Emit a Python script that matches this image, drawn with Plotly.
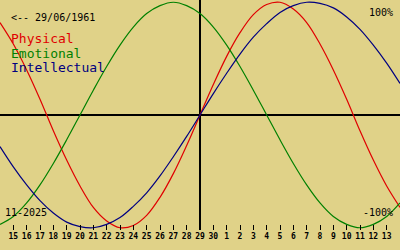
import plotly.graph_objects as go

# Day offsets relative to 29 Nov 2025 (left edge = 14 Nov, right edge = 14 Dec)
day_offsets = list(range(-15, 16))

physical = [0.82, 0.63, 0.40, 0.14, -0.14, -0.40, -0.63, -0.82, -0.94, -1.00, -0.98, -0.89, -0.73, -0.52, -0.27,
            0.00, 0.27, 0.52, 0.73, 0.89, 0.98, 1.00, 0.94, 0.82, 0.63, 0.40, 0.14, -0.14, -0.40, -0.63, -0.82]

emotional = [-0.97, -0.90, -0.78, -0.62, -0.43, -0.22, 0.00, 0.22, 0.43, 0.62, 0.78, 0.90, 0.97, 1.00, 0.97,
             0.90, 0.78, 0.62, 0.43, 0.22, 0.00, -0.22, -0.43, -0.62, -0.78, -0.90, -0.97, -1.00, -0.97, -0.90, -0.78]

intellectual = [-0.28, -0.46, -0.62, -0.76, -0.87, -0.95, -0.99, -1.00, -0.97, -0.91, -0.81, -0.69, -0.54, -0.37, -0.19,
                0.00, 0.19, 0.37, 0.54, 0.69, 0.81, 0.91, 0.97, 1.00, 0.99, 0.95, 0.87, 0.76, 0.62, 0.46, 0.28]

tick_offsets = list(range(-14, 15))
tick_days = [15, 16, 17, 18, 19, 20, 21, 22, 23, 24, 25, 26, 27, 28, 29, 30,
             1, 2, 3, 4, 5, 6, 7, 8, 9, 10, 11, 12, 13]

BG = "rgb(224,210,136)"
RED = "#e00000"
GREEN = "#008000"
BLUE = "#000080"
MONO = "DejaVu Sans Mono"

fig = go.Figure()
for name, vals, col in [("Physical", physical, RED), ("Emotional", emotional, GREEN),
                        ("Intellectual", intellectual, BLUE)]:
    fig.add_trace(go.Scatter(x=day_offsets, y=vals, mode="lines", name=name,
                             line=dict(color=col, width=1.2, shape="spline"),
                             hoverinfo="skip"))

H = 230.0  # plot area height in px (from top)


def py(ypix):
    return (H - ypix) / H


annotations = [
    dict(text="<-- 29/06/1961", x=10 / 400, y=py(17), xanchor="left", yanchor="middle",
         font=dict(family=MONO, size=10, color="black")),
    dict(text="Physical", x=10 / 400, y=py(38), xanchor="left", yanchor="middle",
         font=dict(family=MONO, size=13, color=RED)),
    dict(text="Emotional", x=10 / 400, y=py(53), xanchor="left", yanchor="middle",
         font=dict(family=MONO, size=13, color=GREEN)),
    dict(text="Intellectual", x=10 / 400, y=py(68), xanchor="left", yanchor="middle",
         font=dict(family=MONO, size=13, color=BLUE)),
    dict(text="100%", x=394 / 400, y=py(12.5), xanchor="right", yanchor="middle",
         font=dict(family=MONO, size=10, color="black")),
    dict(text="-100%", x=394 / 400, y=py(212), xanchor="right", yanchor="middle",
         font=dict(family=MONO, size=10, color="black")),
    dict(text="11-2025", x=4 / 400, y=py(212.5), xanchor="left", yanchor="middle",
         font=dict(family=MONO, size=10, color="black")),
]
for a in annotations:
    a.update(xref="paper", yref="paper", showarrow=False, borderpad=0)

fig.update_layout(
    width=400, height=250,
    margin=dict(l=0, r=0, t=0, b=20),
    paper_bgcolor=BG, plot_bgcolor=BG,
    showlegend=False,
    annotations=annotations,
    xaxis=dict(range=[-15, 15], tickmode="array", tickvals=tick_offsets, ticktext=[str(d) for d in tick_days],
               ticks="inside", ticklen=5, tickwidth=1, tickcolor="black",
               tickfont=dict(family=MONO, size=8, color="black", weight="bold"),
               showgrid=False, showline=False, zeroline=True, zerolinecolor="black", zerolinewidth=1.5,
               automargin=False, fixedrange=True),
    yaxis=dict(range=[-1.02, 1.02], showticklabels=False, ticks="", showgrid=False, showline=False,
               zeroline=True, zerolinecolor="black", zerolinewidth=2, automargin=False, fixedrange=True),
)

fig.write_html("out.html", config={"displayModeBar": False})
